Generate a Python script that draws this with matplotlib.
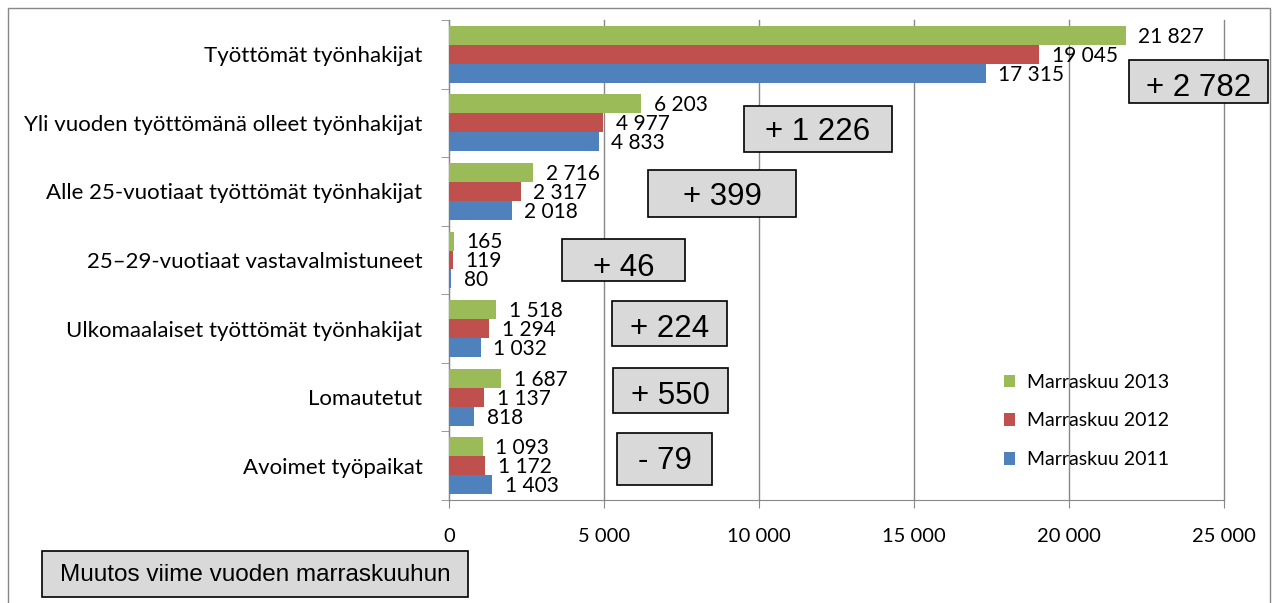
"""Työttömät työnhakijat ja avoimet työpaikat, marraskuu 2011-2013."""

import matplotlib.pyplot as plt
import numpy as np
from matplotlib.patches import Patch, Rectangle

categories = [
    "Työttömät työnhakijat",
    "Yli vuoden työttömänä olleet työnhakijat",
    "Alle 25-vuotiaat työttömät työnhakijat",
    "25–29-vuotiaat vastavalmistuneet",
    "Ulkomaalaiset työttömät työnhakijat",
    "Lomautetut",
    "Avoimet työpaikat",
]
v2013 = [21827, 6203, 2716, 165, 1518, 1687, 1093]
v2012 = [19045, 4977, 2317, 119, 1294, 1137, 1172]
v2011 = [17315, 4833, 2018, 80, 1032, 818, 1403]
series_names = ["Marraskuu 2013", "Marraskuu 2012", "Marraskuu 2011"]
box_title = "Muutos viime vuoden marraskuuhun"

# change boxes in figure pixels: (left, top, right, bottom, text centre y)
box_px = [
    (1129, 60, 1268, 103, 88),
    (744, 106, 892, 152, 132),
    (648, 170, 796, 217, 197),
    (562, 239, 685, 281, 268),
    (612, 301, 727, 346, 329),
    (613, 368, 728, 413, 396),
    (617, 433, 712, 485, 461),
]

colors = ["#9BBB59", "#C0504D", "#4F81BD"]
W, H = 1277, 603
BOX_FONT = "Liberation Sans"
LABEL_FONT = "Lato"


def fmt(v):
    return f"{v:,}".replace(",", " ")


def draw_box(fig, left, top, right, bottom, ty, text, size):
    fig.add_artist(Rectangle(
        (left / W, 1 - bottom / H), (right - left) / W, (bottom - top) / H,
        transform=fig.transFigure, facecolor="#D9D9D9", edgecolor="black",
        linewidth=1.2, zorder=5,
    ))
    fig.text((left + right) / 2 / W, 1 - ty / H, text, ha="center", va="center",
             fontsize=size, family=BOX_FONT, zorder=6)


fig = plt.figure(figsize=(W / 100, H / 100), dpi=100)
ax = fig.add_axes([449 / W, 1 - 500 / H, (1224 - 449) / W, 480 / H])

y = np.arange(len(categories))
h = 0.277
for off, vals, c in zip([-h, 0, h], [v2013, v2012, v2011], colors):
    bars = ax.barh(y + off, vals, height=h, color=c, zorder=3)
    for bar, val in zip(bars, vals):
        ax.annotate(
            fmt(val),
            (bar.get_width(), bar.get_y() + bar.get_height() / 2),
            xytext=(9, -1),
            textcoords="offset points",
            ha="left",
            va="center",
            fontsize=15,
            family=LABEL_FONT,
            zorder=4,
        )

ax.set_xlim(0, 25000)
ax.set_ylim(len(categories) - 0.5, -0.5)
ax.set_xticks(np.arange(0, 25001, 5000))
ax.set_xticklabels([fmt(t) for t in range(0, 25001, 5000)], fontsize=14.5, family=LABEL_FONT)
ax.set_yticks(y)
ax.set_yticklabels(categories, fontsize=16, family=LABEL_FONT)
ax.set_yticks(np.arange(-0.5, len(categories)), minor=True)
ax.tick_params(axis="y", which="major", length=0, pad=19)
ax.tick_params(axis="y", which="minor", length=6, color="#888888")
ax.tick_params(axis="x", length=6, color="#888888", pad=14)
ax.grid(axis="x", color="#888888", linewidth=1, zorder=0)
for line in ax.get_xgridlines():
    line.set_clip_on(False)
for side in ["top", "right"]:
    ax.spines[side].set_visible(False)
for side in ["left", "bottom"]:
    ax.spines[side].set_color("#888888")

for (l, t, r, b, ty), a, prev in zip(box_px, v2013, v2012):
    d = a - prev
    label = f"+ {fmt(d)}" if d >= 0 else f"- {fmt(-d)}"
    draw_box(fig, l, t, r, b, ty, label, 22.5)

draw_box(fig, 42, 551, 468, 597, 575, box_title, 17.5)

handles = [Patch(facecolor=c, edgecolor="none") for c in colors]
fig.legend(
    handles, series_names,
    loc="center left", bbox_to_anchor=(986 / W, 1 - 421 / H),
    frameon=False, prop={"family": LABEL_FONT, "size": 14},
    handlelength=0.6, handleheight=0.6, labelspacing=1.12, handletextpad=0.6,
)

fig.add_artist(Rectangle((8 / W, -0.02), 1262 / W, 1.02 - 8 / H, transform=fig.transFigure,
                         fill=False, edgecolor="#888888", linewidth=1))

fig.savefig("out.png", dpi=100)
